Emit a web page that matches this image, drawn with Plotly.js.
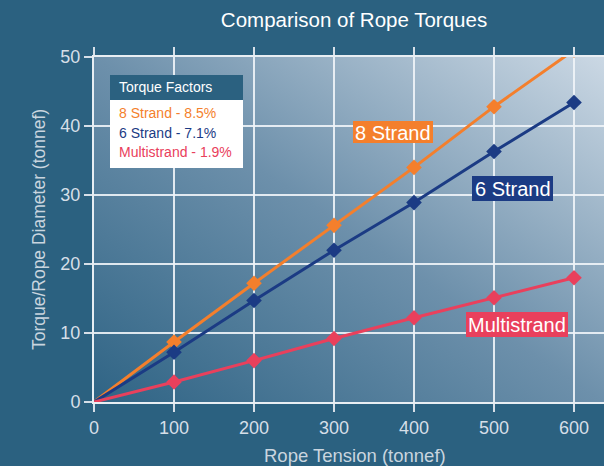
<!DOCTYPE html>
<html>
<head>
<meta charset="utf-8">
<script src="https://cdn.plot.ly/plotly-3.0.1.min.js"></script>
<style>html,body{margin:0;padding:0;background:#2b6180;overflow:hidden;}#chart{width:604px;height:466px;}</style>
</head>
<body>
<div id="chart"></div>
<script>
// Data
const tension = [0, 100, 200, 300, 400, 500, 600];
const strand8 = [0, 8.7, 17.2, 25.6, 34.0, 42.8, 51.0];
const strand6 = [0, 7.2, 14.7, 22.0, 28.9, 36.3, 43.4];
const multistrand = [0, 2.9, 6.0, 9.2, 12.2, 15.1, 18.0];
const seriesNames = ['8 Strand', '6 Strand', 'Multistrand'];
const factorLabels = ['8 Strand - 8.5%', '6 Strand - 7.1%', 'Multistrand - 1.9%'];
const xTicks = [0, 100, 200, 300, 400, 500, 600];
const yTicks = [0, 10, 20, 30, 40, 50];

const colors = ['#f47f2c', '#1b3b84', '#e9405c'];
const seriesVals = [strand8, strand6, multistrand];

// pixel -> paper helpers (plot area: l=94, t=57, w=510, h=345)
const L = 94, T = 57, W = 510, H = 345;
const px = v => (v - L) / W;
const py = v => (T + H - v) / H;

const traces = seriesVals.map((vals, i) => ({
  x: tension, y: vals, type: 'scatter', mode: 'lines+markers', name: seriesNames[i],
  line: {color: colors[i], width: 3},
  marker: {symbol: 'diamond', size: tension.map(t => t === 0 ? 0 : 12), color: colors[i], opacity: 1, line: {width: 0}},
  showlegend: false, hoverinfo: 'skip'
}));

const svg = "<svg xmlns='http://www.w3.org/2000/svg' width='510' height='345' preserveAspectRatio='none'><defs><linearGradient id='g' x1='0' y1='1' x2='1' y2='0'><stop offset='0' stop-color='#2f6485'/><stop offset='0.5' stop-color='#6d90ab'/><stop offset='1' stop-color='#cbd8e4'/></linearGradient></defs><rect width='100%' height='100%' fill='url(#g)'/></svg>";
const bg = 'data:image/svg+xml;base64,' + btoa(svg);

const font = 'Liberation Sans, Arial, sans-serif';
const tickColor = '#d6dfe8';
const titleColor = '#c9d5df';

// label boxes [x0, x1, y0, y1] in pixels
const labelBoxes = [[353, 433, 121, 143], [472, 553, 176, 201], [466, 568, 312, 337]];

const annotations = [
  {text: 'Rope Tension (tonnef)', xref: 'paper', yref: 'paper', x: px(355), y: py(455), xanchor: 'center', yanchor: 'middle', showarrow: false, font: {family: font, size: 18.5, color: titleColor}},
  {text: 'Torque Factors', xref: 'paper', yref: 'paper', x: px(117), y: py(87.5), xanchor: 'left', yanchor: 'middle', showarrow: false, font: {family: font, size: 14, color: '#ffffff'}}
];
labelBoxes.forEach((b, i) => annotations.push({
  text: seriesNames[i], xref: 'paper', yref: 'paper', x: px((b[0] + b[1]) / 2), y: py((b[2] + b[3]) / 2 + 0.5),
  xanchor: 'center', yanchor: 'middle', showarrow: false, font: {family: font, size: 20, color: '#ffffff'}
}));
const factorY = [112.7, 132.7, 151.5];
factorLabels.forEach((t, i) => annotations.push({
  text: t, xref: 'paper', yref: 'paper', x: px(116.5), y: py(factorY[i]), xanchor: 'left', yanchor: 'middle', showarrow: false,
  font: {family: font, size: 14, color: colors[i]}
}));

const shapes = [
  {type: 'rect', xref: 'paper', yref: 'paper', x0: px(110), x1: px(243), y0: py(100), y1: py(75), fillcolor: '#2b6180', line: {width: 0}, layer: 'above'},
  {type: 'rect', xref: 'paper', yref: 'paper', x0: px(110), x1: px(243), y0: py(168), y1: py(100), fillcolor: '#ffffff', line: {width: 0}, layer: 'above'}
];
labelBoxes.forEach((b, i) => shapes.push({
  type: 'rect', xref: 'paper', yref: 'paper', x0: px(b[0]), x1: px(b[1]), y0: py(b[3]), y1: py(b[2]), fillcolor: colors[i], line: {width: 0}, layer: 'above'
}));

const layout = {
  width: 604, height: 466,
  margin: {l: L, r: 0, t: T, b: 466 - T - H, pad: 0},
  paper_bgcolor: '#2b6180', plot_bgcolor: 'rgba(0,0,0,0)',
  title: {text: 'Comparison of Rope Torques', x: 354 / 604, xanchor: 'center', y: 1 - 20 / 466, yanchor: 'middle', font: {family: font, size: 20.5, color: '#ffffff'}},
  xaxis: {
    range: [0, 637.5], tickvals: xTicks, ticktext: xTicks.map(String),
    showgrid: true, gridcolor: 'rgba(240,244,248,0.9)', gridwidth: 2,
    zeroline: false, showline: true, linecolor: '#e8eef3', linewidth: 2, mirror: 'ticks',
    ticks: 'outside', ticklen: 8, tickwidth: 2, tickcolor: tickColor,
    tickfont: {family: font, size: 18, color: tickColor}, fixedrange: true
  },
  yaxis: {
    range: [0, 50], tickvals: yTicks, ticktext: yTicks.map(String),
    showgrid: true, gridcolor: 'rgba(240,244,248,0.9)', gridwidth: 2,
    zeroline: false, showline: true, linecolor: '#e8eef3', linewidth: 2,
    ticks: 'outside', ticklen: 8, tickwidth: 2, tickcolor: tickColor,
    tickfont: {family: font, size: 18, color: tickColor},
    title: {text: 'Torque/Rope Diameter (tonnef)', standoff: 10, font: {family: font, size: 17.5, color: titleColor}},
    fixedrange: true
  },
  images: [{source: bg, xref: 'paper', yref: 'paper', x: 0, y: 1, sizex: 1, sizey: 1, sizing: 'stretch', xanchor: 'left', yanchor: 'top', layer: 'below'}],
  shapes: shapes,
  annotations: annotations
};

Plotly.newPlot('chart', traces, layout, {displayModeBar: false, staticPlot: true});
</script>
</body>
</html>
